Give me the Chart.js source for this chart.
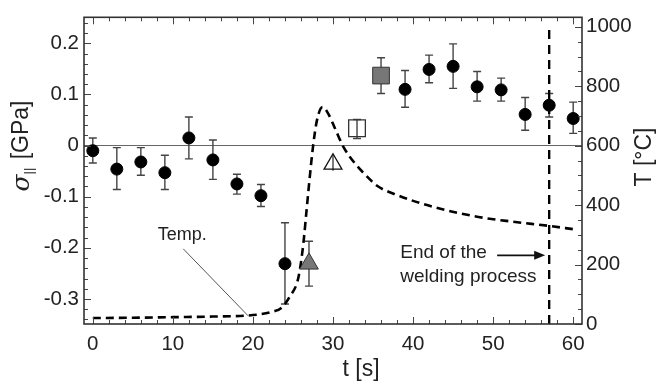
<!DOCTYPE html>
<html>
<head>
<meta charset="utf-8">
<script src="https://cdn.jsdelivr.net/npm/chart.js@4/dist/chart.umd.min.js"></script>
<style>
  html, body { margin: 0; padding: 0; background: #fff; }
  #wrap { width: 657px; height: 384px; }
</style>
</head>
<body>
<div id="wrap"><canvas id="weld"></canvas></div>
<script>
// stress measurements (GPa) with lower / upper error limits
const circleT  = [0, 3, 6, 9, 12, 15, 18, 21, 24, 39, 42, 45, 48, 51, 54, 57, 60];
const circleS  = [-0.010, -0.046, -0.032, -0.053, 0.015, -0.028, -0.075, -0.098, -0.231, 0.110, 0.149, 0.155, 0.115, 0.109, 0.061, 0.079, 0.053];
const circleLo = [-0.034, -0.086, -0.058, -0.086, -0.026, -0.066, -0.095, -0.119, -0.310, 0.075, 0.123, 0.112, 0.087, 0.087, 0.030, 0.056, 0.024];
const circleHi = [0.015, -0.004, -0.004, -0.019, 0.056, 0.011, -0.056, -0.076, -0.151, 0.147, 0.177, 0.199, 0.145, 0.132, 0.094, 0.102, 0.085];

const grayTriT = [27],  grayTriS = [-0.231], grayTriLo = [-0.275], grayTriHi = [-0.187];
const openTriT = [30],  openTriS = [-0.036], openTriLo = [-0.049], openTriHi = [-0.018];
const openSqT  = [33],  openSqS  = [0.034],  openSqLo  = [0.014],  openSqHi  = [0.051];
const graySqT  = [36],  graySqS  = [0.137],  graySqLo  = [0.102],  graySqHi  = [0.172];

// temperature history (°C)
const tempT = [0, 5, 10, 15, 19, 21, 22.5, 23.5, 24.6, 25.7, 26.3, 26.7, 27.1, 27.5, 28.0, 28.7, 29.4, 30.25, 31.3, 32.75, 34.3, 35.5, 38, 42.5, 48, 52.5, 57, 60];
const tempC = [20, 21, 23, 25, 28, 33, 42, 53, 92, 159, 271, 383, 495, 596, 686, 730, 708, 658, 596, 540, 495, 465, 434, 394, 361, 344, 330, 319];

// end of welding
const weldEndT = 57;
const weldEndC = [0, 1008];

// tick labels
const timeTicks  = [0, 10, 20, 30, 40, 50, 60];
const sigmaTicks = [-0.3, -0.2, -0.1, 0, 0.1, 0.2];
const sigmaTickLabels = ['-0.3', '-0.2', '-0.1', '0', '0.1', '0.2'];
const tempTicks  = [0, 200, 400, 600, 800, 1000];

const FONT = '"Liberation Sans", Arial, sans-serif';
const INK = '#222';

const pts = (xs, ys) => xs.map((x, i) => ({ x: x, y: ys[i] }));

// error bars behind the markers
const errorBars = {
  id: 'errorBars',
  beforeDatasetsDraw(chart) {
    const { ctx } = chart;
    const xs = chart.scales.x, ys = chart.scales.y;
    ctx.save();
    ctx.strokeStyle = '#444';
    ctx.lineWidth = 1.4;
    chart.data.datasets.forEach(ds => {
      if (!ds.errLo) return;
      ds.data.forEach((p, i) => {
        const x = xs.getPixelForValue(p.x);
        const y1 = ys.getPixelForValue(ds.errLo[i]);
        const y2 = ys.getPixelForValue(ds.errHi[i]);
        ctx.beginPath();
        ctx.moveTo(x, y1); ctx.lineTo(x, y2);
        if (ds.errCap !== false) {
          ctx.moveTo(x - 4, y1); ctx.lineTo(x + 4, y1);
          ctx.moveTo(x - 4, y2); ctx.lineTo(x + 4, y2);
        }
        ctx.stroke();
      });
    });
    ctx.restore();
  }
};

// frame, inward ticks, annotations, axis titles
const frame = {
  id: 'frame',
  afterDraw(chart) {
    const { ctx, chartArea: a } = chart;
    const xs = chart.scales.x, ys = chart.scales.y, yt = chart.scales.yT;
    ctx.save();
    ctx.strokeStyle = '#444';
    ctx.lineWidth = 1;
    ctx.beginPath();
    for (let v = 0; v <= 60; v += 2) {
      const x = Math.round(xs.getPixelForValue(v)) + 0.5;
      const len = v % 10 === 0 ? 7 : 4;
      ctx.moveTo(x, a.bottom); ctx.lineTo(x, a.bottom - len);
      ctx.moveTo(x, a.top); ctx.lineTo(x, a.top + len);
    }
    for (let k = -17; k <= 12; k++) {
      const y = Math.round(ys.getPixelForValue(k * 0.02)) + 0.5;
      const len = k % 5 === 0 ? 7 : 4;
      ctx.moveTo(a.left, y); ctx.lineTo(a.left + len, y);
    }
    for (let v = 0; v <= 1000; v += 50) {
      const y = Math.round(yt.getPixelForValue(v)) + 0.5;
      const len = v % 200 === 0 ? 7 : 4;
      ctx.moveTo(a.right, y); ctx.lineTo(a.right - len, y);
    }
    ctx.stroke();

    ctx.strokeStyle = '#333';
    ctx.lineWidth = 1.6;
    ctx.strokeRect(a.left, a.top, a.right - a.left, a.bottom - a.top);

    // "Temp." label with leader line
    ctx.fillStyle = INK;
    ctx.font = '18px ' + FONT;
    ctx.textBaseline = 'middle';
    ctx.textAlign = 'left';
    ctx.fillText('Temp.', xs.getPixelForValue(8.1), ys.getPixelForValue(-0.175));
    ctx.strokeStyle = '#555';
    ctx.lineWidth = 1;
    ctx.beginPath();
    ctx.moveTo(xs.getPixelForValue(11.3), ys.getPixelForValue(-0.202));
    ctx.lineTo(xs.getPixelForValue(19.4), ys.getPixelForValue(-0.333));
    ctx.stroke();

    // end of welding note and arrow
    ctx.font = '19px ' + FONT;
    ctx.fillText('End of the', xs.getPixelForValue(38.4), ys.getPixelForValue(-0.209));
    ctx.fillText('welding process', xs.getPixelForValue(38.4), ys.getPixelForValue(-0.256));
    const ay = ys.getPixelForValue(-0.2147);
    const ax1 = xs.getPixelForValue(50.5), ax2 = xs.getPixelForValue(56.5);
    ctx.strokeStyle = '#111';
    ctx.lineWidth = 1.6;
    ctx.beginPath();
    ctx.moveTo(ax1, ay); ctx.lineTo(ax2 - 8, ay);
    ctx.stroke();
    ctx.fillStyle = '#111';
    ctx.beginPath();
    ctx.moveTo(ax2, ay); ctx.lineTo(ax2 - 11, ay - 4.5); ctx.lineTo(ax2 - 11, ay + 4.5);
    ctx.closePath();
    ctx.fill();

    // axis titles
    ctx.fillStyle = INK;
    ctx.textAlign = 'center';
    ctx.font = '23px ' + FONT;
    ctx.fillText('t [s]', 361, 370);

    ctx.save();
    ctx.translate(645, 157);
    ctx.rotate(-Math.PI / 2);
    ctx.fillText('T [°C]', 0, 0);
    ctx.restore();

    ctx.save();
    ctx.translate(22, 146);
    ctx.rotate(-Math.PI / 2);
    ctx.textAlign = 'left';
    const sFont = 'italic 25px "DejaVu Serif", serif';
    const subFont = '13px ' + FONT;
    const mainFont = '23px ' + FONT;
    ctx.font = sFont;   const w1 = ctx.measureText('σ').width;
    ctx.font = subFont; const w2 = ctx.measureText('||').width;
    ctx.font = mainFont; const w3 = ctx.measureText(' [GPa]').width;
    let x0 = -(w1 + w2 + 2 + w3) / 2;
    ctx.font = sFont; ctx.fillText('σ', x0, 0); x0 += w1;
    ctx.font = subFont; ctx.fillText('||', x0, 7); x0 += w2 + 2;
    ctx.font = mainFont; ctx.fillText(' [GPa]', x0, 0);
    ctx.restore();

    ctx.restore();
  }
};

const marker = (label, xs, ys, lo, hi, style) => Object.assign({
  label: label,
  data: pts(xs, ys),
  errLo: lo,
  errHi: hi,
  yAxisID: 'y',
  showLine: false,
  pointHoverRadius: 0
}, style);

new Chart(document.getElementById('weld'), {
  type: 'scatter',
  data: {
    datasets: [
      {
        label: 'Temp.',
        data: pts(tempT, tempC),
        yAxisID: 'yT',
        showLine: true,
        borderColor: '#000',
        borderWidth: 2.6,
        borderDash: [8, 5],
        pointRadius: 0,
        cubicInterpolationMode: 'monotone',
        order: 1
      },
      {
        label: 'weld end',
        data: pts([weldEndT, weldEndT], weldEndC),
        yAxisID: 'yT',
        showLine: true,
        borderColor: '#000',
        borderWidth: 2.4,
        borderDash: [9, 6],
        pointRadius: 0,
        order: 1
      },
      marker('sigma', circleT, circleS, circleLo, circleHi, {
        pointStyle: 'circle', pointRadius: 6,
        backgroundColor: '#000', borderColor: '#000', borderWidth: 1
      }),
      marker('gray triangle', grayTriT, grayTriS, grayTriLo, grayTriHi, {
        pointStyle: 'triangle', pointRadius: 10.8,
        backgroundColor: '#777', borderColor: '#333', borderWidth: 1
      }),
      marker('open triangle', openTriT, openTriS, openTriLo, openTriHi, {
        pointStyle: 'triangle', pointRadius: 10.3, errCap: false,
        backgroundColor: 'rgba(0,0,0,0)', borderColor: '#111', borderWidth: 1.3
      }),
      marker('open square', openSqT, openSqS, openSqLo, openSqHi, {
        pointStyle: 'rect', pointRadius: 11.8,
        backgroundColor: 'rgba(0,0,0,0)', borderColor: '#333', borderWidth: 1.3
      }),
      marker('gray square', graySqT, graySqS, graySqLo, graySqHi, {
        pointStyle: 'rect', pointRadius: 11.8,
        backgroundColor: '#777', borderColor: '#333', borderWidth: 1
      })
    ]
  },
  options: {
    responsive: true,
    maintainAspectRatio: false,
    animation: false,
    events: [],
    layout: { padding: { top: 17, left: 0, right: 0, bottom: 0 } },
    plugins: { legend: { display: false }, tooltip: { enabled: false } },
    scales: {
      x: {
        type: 'linear',
        min: -1.1,
        max: 61.1,
        afterBuildTicks: s => { s.ticks = timeTicks.map(v => ({ value: v })); },
        afterFit: s => { s.height = 60; },
        grid: { display: false, drawTicks: false },
        border: { display: false },
        ticks: { color: INK, padding: 8, font: { family: FONT, size: 20.5 }, maxRotation: 0,
          callback: v => String(v) }
      },
      y: {
        position: 'left',
        min: -0.349,
        max: 0.251,
        afterBuildTicks: s => { s.ticks = sigmaTicks.map(v => ({ value: v })); },
        afterFit: s => { s.width = 84; },
        grid: {
          drawTicks: false,
          color: c => (c.tick && Math.abs(c.tick.value) < 1e-9 ? '#666' : 'rgba(0,0,0,0)'),
          lineWidth: 1
        },
        border: { display: false },
        ticks: {
          color: INK, padding: 5, font: { family: FONT, size: 20.5 },
          callback: v => sigmaTickLabels[sigmaTicks.findIndex(t => Math.abs(t - v) < 1e-9)]
        }
      },
      yT: {
        position: 'right',
        min: 0,
        max: 1032,
        afterBuildTicks: s => { s.ticks = tempTicks.map(v => ({ value: v })); },
        afterFit: s => { s.width = 75; },
        grid: { display: false, drawTicks: false },
        border: { display: false },
        ticks: { color: INK, padding: 4, font: { family: FONT, size: 20.5 },
          callback: v => String(v) }
      }
    }
  },
  plugins: [errorBars, frame]
});
</script>
</body>
</html>
